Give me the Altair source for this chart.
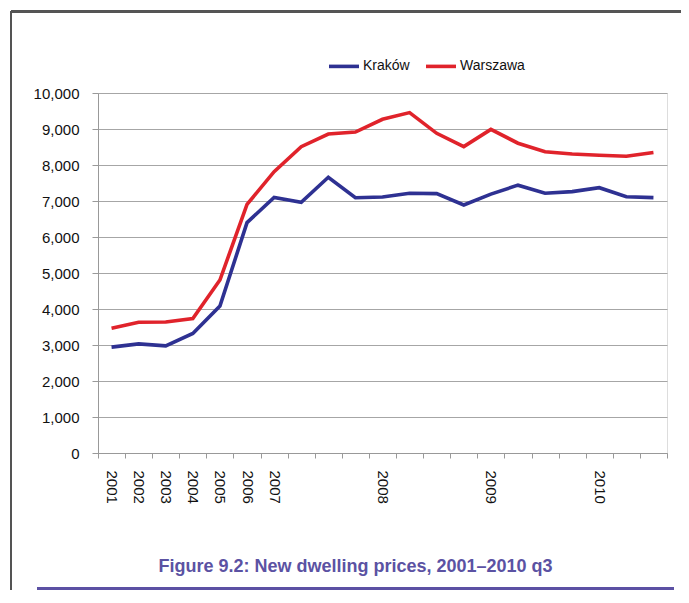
import altair as alt
import pandas as pd

categories = ["2001", "2002", "2003", "2004", "2005", "2006",
              "2007 q1", "2007 q2", "2007 q3", "2007 q4",
              "2008 q1", "2008 q2", "2008 q3", "2008 q4",
              "2009 q1", "2009 q2", "2009 q3", "2009 q4",
              "2010 q1", "2010 q2", "2010 q3"]
krakow = [2940, 3030, 2975, 3320, 4080, 6400, 7100, 6965, 7660, 7090,
          7110, 7215, 7205, 6890, 7190, 7440, 7215, 7260, 7370, 7120, 7095]
warszawa = [3465, 3630, 3640, 3735, 4805, 6905, 7815, 8510, 8860, 8915,
            9270, 9455, 8880, 8510, 8990, 8605, 8370, 8305, 8270, 8245, 8345]
series_names = ["Kraków", "Warszawa"]
series_colors = ["#2e3192", "#e0232b"]
title_text = ["Figure 9.2: New dwelling prices, 2001\u20132010 q3"]

rows = []
for i, c in enumerate(categories):
    rows.append({"period": c, "city": "Kraków", "price": krakow[i]})
    rows.append({"period": c, "city": "Warszawa", "price": warszawa[i]})
df = pd.DataFrame(rows)

FONT = "'Liberation Sans', Arial, Helvetica, sans-serif"

label_expr = ("test(/^[0-9]{4}$/, datum.value) ? datum.value : "
              "(test(/q1$/, datum.value) ? substring(datum.value, 0, 4) : '')")

lines = alt.Chart(df).mark_line(strokeWidth=3.6).encode(
    x=alt.X("period:N", sort=categories,
            scale=alt.Scale(type="band", paddingInner=0, paddingOuter=0),
            axis=alt.Axis(title=None, labelAngle=90, labelExpr=label_expr,
                          tickBand="extent", grid=False, labelFont=FONT,
                          labelFontSize=15, labelColor="#111111", labelPadding=12,
                          tickSize=5, tickColor="#999999", domainColor="#999999",
                          labelOverlap=False)),
    y=alt.Y("price:Q", scale=alt.Scale(domain=[0, 10000], nice=False),
            axis=alt.Axis(title=None, values=list(range(0, 10001, 1000)), format=",d",
                          labelFont=FONT, labelFontSize=15, labelColor="#111111",
                          labelPadding=13, tickSize=6, tickColor="#999999",
                          domainColor="#999999", gridColor="#a6a6a6", gridWidth=1.2)),
    color=alt.Color("city:N", scale=alt.Scale(domain=series_names, range=series_colors),
                    legend=alt.Legend(title=None, orient="none", legendX=229, legendY=-44,
                                      direction="horizontal", symbolType="stroke",
                                      symbolSize=900, symbolStrokeWidth=3.6,
                                      labelFont=FONT, labelFontSize=14, labelColor="#111111",
                                      labelOffset=2, columnPadding=8, padding=0)),
)

frame_color = "#555555"
left_border = alt.Chart(df).mark_rule(color=frame_color, strokeWidth=1.5).encode(
    x=alt.value(-87), y=alt.value(-81.5), y2=alt.value(520))
top_border = alt.Chart(df).mark_rule(color=frame_color, strokeWidth=1.5).encode(
    x=alt.value(-87), x2=alt.value(600), y=alt.value(-81.5))
bottom_line = alt.Chart(df).mark_rule(color="#5b52a3", strokeWidth=1.5).encode(
    x=alt.value(-61), x2=alt.value(576), y=alt.value(495.5))

title_mark = alt.Chart(pd.DataFrame({"t": title_text})).mark_text(
    font=FONT, fontSize=18, fontWeight="bold", color="#5b52a3",
    align="center", baseline="middle").encode(
    text="t:N", x=alt.value(257.5), y=alt.value(474))

chart = alt.layer(lines, left_border, top_border, bottom_line, title_mark).properties(
    width=569, height=360,
    autosize=alt.AutoSizeParams(type="none"),
    padding={"left": 90, "top": 85, "right": 14, "bottom": 137},
).configure_view(stroke=None).configure(background="white")

chart.save("out.html", embed_options={"renderer": "svg", "actions": False})
